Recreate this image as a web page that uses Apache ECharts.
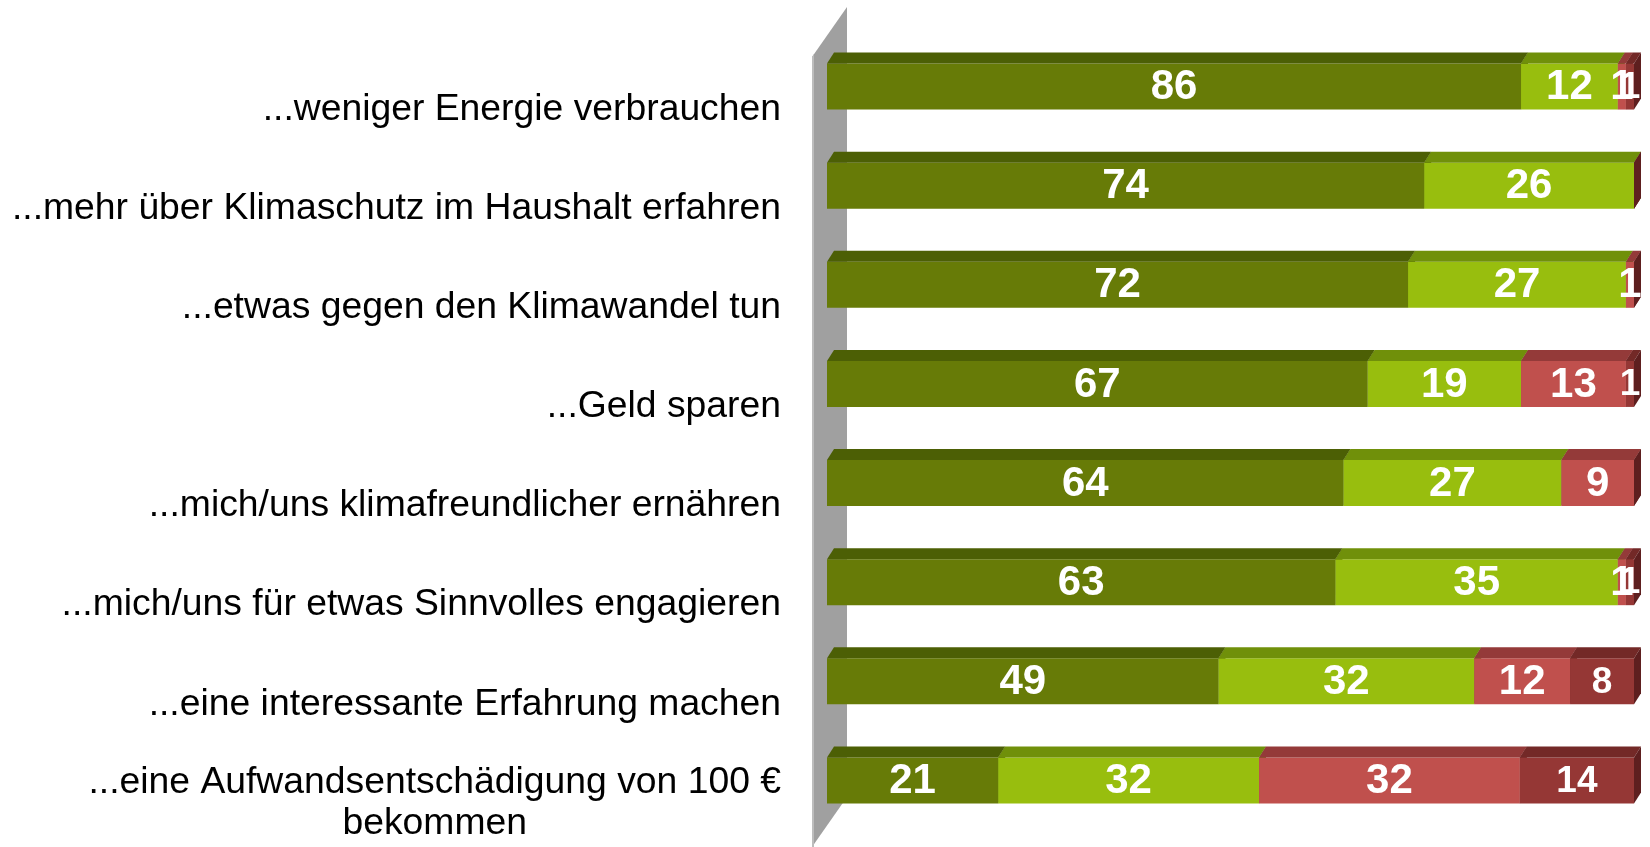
<!DOCTYPE html>
<html>
<head>
<meta charset="utf-8">
<script src="https://cdn.jsdelivr.net/npm/echarts@6/dist/echarts.min.js"></script>
<style>
html, body { margin: 0; padding: 0; background: #fff; }
#chart { width: 1650px; height: 847px; }
</style>
</head>
<body>
<div id="chart"></div>
<script>
// Kategorien (oben nach unten)
var categories = [
    '...weniger Energie verbrauchen',
    '...mehr über Klimaschutz im Haushalt erfahren',
    '...etwas gegen den Klimawandel tun',
    '...Geld sparen',
    '...mich/uns klimafreundlicher ernähren',
    '...mich/uns für etwas Sinnvolles engagieren',
    '...eine interessante Erfahrung machen',
    '...eine Aufwandsentschädigung von 100 €\nbekommen'
];
// Werte in %
var sehrWichtig    = [86, 74, 72, 67, 64, 63, 49, 21];
var eherWichtig    = [12, 26, 27, 19, 27, 35, 32, 32];
var wenigerWichtig = [1, 0, 1, 13, 9, 1, 12, 32];
var garNicht       = [1, 0, 0, 1, 0, 1, 8, 14];

var seriesList = [
    { name: 'sehr wichtig',   data: sehrWichtig,    front: '#677B07', top: '#4C5F05', side: '#3D4C03', size: 42 },
    { name: 'eher wichtig',   data: eherWichtig,    front: '#98BE0E', top: '#70900A', side: '#5A7407', size: 42 },
    { name: 'weniger wichtig',data: wenigerWichtig, front: '#C0504D', top: '#943A39', side: '#7A2E2D', size: 42 },
    { name: 'gar nicht',      data: garNicht,       front: '#953735', top: '#732927', side: '#5E1F1F', size: 37 }
];

var DX = 7, DY = 11;
var FONT = 'Arial, "Liberation Sans", sans-serif';

// Stapel auf 100 % normieren
var totals = categories.map(function (c, i) {
    return seriesList.reduce(function (s, ser) { return s + ser.data[i]; }, 0);
});
var offsets = categories.map(function () { return 0; });

var series = seriesList.map(function (ser, si) {
    var items = ser.data.map(function (v, i) {
        var start = offsets[i];
        var end = start + v / totals[i] * 100;
        offsets[i] = end;
        return [start, end, i, v];
    });
    return {
        name: ser.name,
        type: 'custom',
        encode: { x: [0, 1], y: 2 },
        data: items,
        renderItem: function (params, api) {
            var cat = api.value(2);
            var p0 = api.coord([api.value(0), cat]);
            var p1 = api.coord([api.value(1), cat]);
            var h = api.size([0, 1])[1] * 0.464;
            var x0 = p0[0], x1 = p1[0];
            var yT = p0[1] - h / 2, yB = p0[1] + h / 2;
            var children = [
                { type: 'rect', z2: si * 10, shape: { x: x0, y: yT, width: x1 - x0, height: h },
                  style: { fill: ser.front } },
                { type: 'polygon', z2: si * 10 + 1,
                  shape: { points: [[x0, yT], [x1, yT], [x1 + DX, yT - DY], [x0 + DX, yT - DY]] },
                  style: { fill: ser.top } },
                { type: 'polygon', z2: si * 10 + 2,
                  shape: { points: [[x1, yT], [x1 + DX, yT - DY], [x1 + DX, yB - DY], [x1, yB]] },
                  style: { fill: ser.side } }
            ];
            var v = api.value(3);
            if (v > 0) {
                children.push({
                    type: 'text', z2: 100,
                    style: {
                        text: String(v), x: (x0 + x1) / 2, y: p0[1] + 1,
                        align: 'center', verticalAlign: 'middle',
                        fill: '#fff', font: 'bold ' + ser.size + 'px ' + FONT
                    }
                });
            }
            return { type: 'group', children: children };
        }
    };
});

var chart = echarts.init(document.getElementById('chart'));
var option = {
    animation: false,
    grid: { left: 827, right: 16, top: 37, bottom: 17 },
    xAxis: { type: 'value', min: 0, max: 100, show: false },
    yAxis: {
        type: 'category',
        data: categories,
        inverse: true,
        axisLine: { show: false },
        axisTick: { show: false },
        splitLine: { show: false },
        axisLabel: {
            interval: 0,
            hideOverlap: false,
            margin: 46,
            color: '#000',
            fontSize: 37.3,
            fontFamily: FONT,
            padding: [46, 0, 0, 0],
            lineHeight: 41,
            formatter: function (val) {
                var parts = val.split('\n');
                if (parts.length < 2) return val;
                return '{a|' + parts[0] + '}\n{b|' + parts[1] + '}';
            },
            rich: {
                a: { fontSize: 37.3, fontFamily: FONT, color: '#000', lineHeight: 41 },
                b: { fontSize: 37.3, fontFamily: FONT, color: '#000', lineHeight: 41, align: 'center' }
            }
        }
    },
    graphic: [
        {
            type: 'polygon', z: -1,
            shape: { points: [[812, 57], [847, 7], [847, 797], [812, 847]] },
            style: { fill: '#A0A0A0' }
        },
        {
            type: 'polygon', z: -1,
            shape: { points: [[812, 57], [814, 54], [814, 847], [812, 847]] },
            style: { fill: '#BDBDBD' }
        }
    ],
    series: series
};
chart.setOption(option);
</script>
</body>
</html>
